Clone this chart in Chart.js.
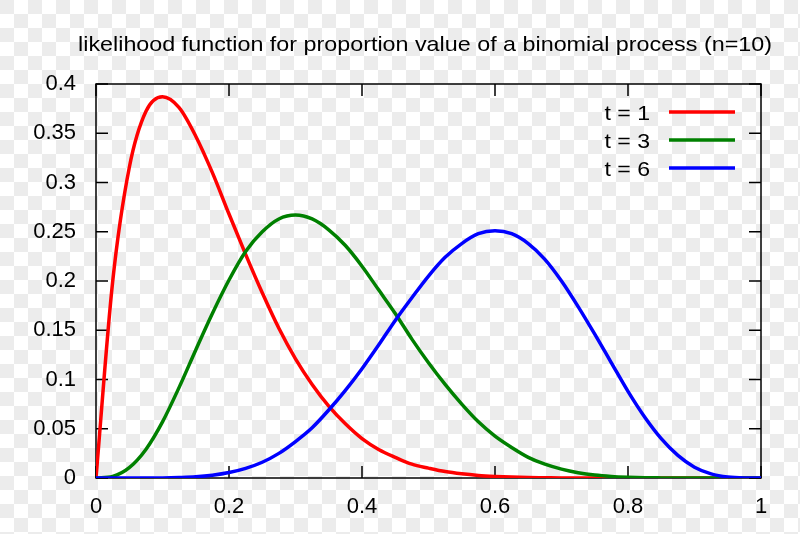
<!DOCTYPE html>
<html lang="en">
<head>
    <meta charset="UTF-8">
    <title>likelihood function</title>
    <script src="https://cdn.jsdelivr.net/npm/chart.js"></script>
    <style>
        body { margin: 0; background: #fff; }
    </style>
</head>
<body>
    <canvas id="myChart" width="800" height="534"></canvas>

    <script>
        // proportion values (x axis), step 0.025
        let proporzioni = [0, 0.025, 0.05, 0.075, 0.1, 0.125, 0.15, 0.175, 0.2, 0.225,
                           0.25, 0.275, 0.3, 0.325, 0.35, 0.375, 0.4, 0.425, 0.45, 0.475,
                           0.5, 0.525, 0.55, 0.575, 0.6, 0.625, 0.65, 0.675, 0.7, 0.725,
                           0.75, 0.775, 0.8, 0.825, 0.85, 0.875, 0.9, 0.925, 0.95, 0.975, 1];
        // likelihood
        let t1 = [0, 0.199, 0.315, 0.372, 0.387, 0.376, 0.347, 0.310, 0.268, 0.227,
                  0.188, 0.152, 0.121, 0.095, 0.073, 0.055, 0.040, 0.029, 0.021, 0.014,
                  0.010, 0.0065, 0.0042, 0.0026, 0.0016, 0.0009, 0.0005, 0.0003, 0.0001, 0.0001,
                  0, 0, 0, 0, 0, 0, 0, 0, 0, 0, 0];
        let t3 = [0, 0.0016, 0.0105, 0.029, 0.057, 0.092, 0.130, 0.167, 0.201, 0.230,
                  0.250, 0.263, 0.267, 0.263, 0.252, 0.236, 0.215, 0.191, 0.167, 0.141,
                  0.117, 0.095, 0.075, 0.057, 0.0425, 0.031, 0.021, 0.014, 0.009, 0.0054,
                  0.003, 0.0016, 0.0008, 0.0003, 0.0001, 0, 0, 0, 0, 0, 0];
        let t6 = [0, 0, 0, 0, 0.0001, 0.0005, 0.0012, 0.0028, 0.0055, 0.0098,
                  0.016, 0.025, 0.037, 0.051, 0.069, 0.089, 0.111, 0.135, 0.160, 0.183,
                  0.205, 0.224, 0.238, 0.248, 0.251, 0.248, 0.238, 0.222, 0.200, 0.174,
                  0.146, 0.117, 0.088, 0.062, 0.040, 0.023, 0.011, 0.0042, 0.001, 0.0001, 0];
        let etichette = ['t = 1', 't = 3', 't = 6'];
        let colori = ['#ff0000', '#008000', '#0000ff'];
        let titolo = 'likelihood function for proportion value of a binomial process (n=10)';

        const FONT = '"Liberation Sans", Arial, sans-serif';

        function punti(valori) {
            return proporzioni.map((x, i) => ({ x: x, y: valori[i] }));
        }

        // checkerboard background behind everything
        const sfondo = {
            id: 'sfondo',
            beforeDraw(chart) {
                const ctx = chart.ctx;
                const lato = 14;
                ctx.save();
                ctx.fillStyle = '#ffffff';
                ctx.fillRect(0, 0, chart.width, chart.height);
                ctx.fillStyle = '#ececec';
                for (let r = 0; r * lato < chart.height; r++) {
                    for (let c = 0; c * lato < chart.width; c++) {
                        if ((r + c) % 2 === 0) ctx.fillRect(c * lato, r * lato, lato, lato);
                    }
                }
                ctx.restore();
            }
        };

        // frame with inward ticks, title and legend (text first, then line)
        const decorazioni = {
            id: 'decorazioni',
            beforeDatasetsDraw(chart) {
                const ctx = chart.ctx;
                const a = chart.chartArea;
                const xs = chart.scales.x, ys = chart.scales.y;
                ctx.save();
                ctx.strokeStyle = '#000';
                ctx.lineWidth = 1.5;
                ctx.strokeRect(a.left, a.top, a.right - a.left, a.bottom - a.top);
                ctx.beginPath();
                xs.ticks.forEach(t => {
                    let px = xs.getPixelForValue(t.value);
                    ctx.moveTo(px, a.bottom); ctx.lineTo(px, a.bottom - 12);
                    ctx.moveTo(px, a.top); ctx.lineTo(px, a.top + 12);
                });
                ys.ticks.forEach(t => {
                    let py = ys.getPixelForValue(t.value);
                    ctx.moveTo(a.left, py); ctx.lineTo(a.left + 12, py);
                    ctx.moveTo(a.right, py); ctx.lineTo(a.right - 12, py);
                });
                ctx.stroke();
                ctx.restore();
            },
            afterDraw(chart) {
                const ctx = chart.ctx;
                ctx.save();
                ctx.fillStyle = '#000';
                ctx.font = '21px ' + FONT;
                ctx.textBaseline = 'alphabetic';

                ctx.save();
                ctx.translate(425, 51);
                ctx.scale(1.11, 1);
                ctx.textAlign = 'center';
                ctx.fillText(titolo, 0, 0);
                ctx.restore();

                chart.data.datasets.forEach((ds, i) => {
                    let y = 112 + i * 28;
                    ctx.save();
                    ctx.translate(650, y + 7.5);
                    ctx.scale(1.1, 1);
                    ctx.textAlign = 'right';
                    ctx.fillText(ds.label, 0, 0);
                    ctx.restore();
                    ctx.strokeStyle = ds.borderColor;
                    ctx.lineWidth = 3.5;
                    ctx.beginPath();
                    ctx.moveTo(669, y);
                    ctx.lineTo(735, y);
                    ctx.stroke();
                });
                ctx.restore();
            }
        };

        function formato(v) {
            return String(+v.toFixed(2));
        }

        let ctx = document.getElementById('myChart').getContext('2d');
        let chart = new Chart(ctx, {
            type: 'line',
            data: {
                datasets: [t1, t3, t6].map((serie, i) => ({
                    label: etichette[i],
                    data: punti(serie),
                    borderColor: colori[i],
                    borderWidth: 3.5,
                    pointRadius: 0,
                    fill: false,
                    cubicInterpolationMode: 'monotone',
                    order: 3 - i
                }))
            },
            options: {
                responsive: false,
                animation: false,
                layout: { padding: { top: 84, right: 39, left: 0, bottom: 0 } },
                plugins: {
                    legend: { display: false },
                    title: { display: false },
                    tooltip: { enabled: false }
                },
                scales: {
                    x: {
                        type: 'linear',
                        min: 0,
                        max: 1,
                        ticks: { stepSize: 0.2, color: '#000', padding: 16, callback: formato,
                                 font: { size: 22, family: FONT } },
                        grid: { display: false, drawTicks: false },
                        border: { display: false },
                        afterFit(s) { s.height = 56; }
                    },
                    y: {
                        min: 0,
                        max: 0.4,
                        ticks: { stepSize: 0.05, color: '#000', padding: 20, callback: formato,
                                 font: { size: 22, family: FONT } },
                        grid: { display: false, drawTicks: false },
                        border: { display: false },
                        afterFit(s) { s.width = 96; }
                    }
                }
            },
            plugins: [sfondo, decorazioni]
        });
    </script>
</body>
</html>
